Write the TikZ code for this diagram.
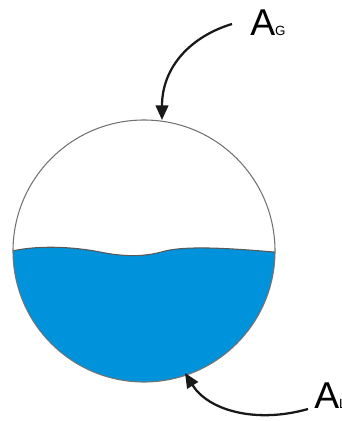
\documentclass[tikz,border=0pt]{standalone}
\usepackage{fontspec}
\setmainfont{Liberation Sans}
\usetikzlibrary{arrows.meta}
\definecolor{waterblue}{RGB}{0,146,219}
\tikzset{
  pointer/.style={line width=1.7pt,black!90,-{Triangle[length=11pt,width=9.5pt]}},
  arealabel/.style={anchor=base west,inner sep=0pt,font=\fontsize{28}{28}\selectfont}
}
\newcommand{\subsm}[1]{{\fontsize{10}{10}\selectfont #1}}
\begin{document}
\begin{tikzpicture}[x=0.75pt,y=-0.75pt]
  \useasboundingbox (0,0) rectangle (342,421);
  \clip (0,0) rectangle (342,421);
  % tank
  \coordinate (ctr) at (144,251);
  \begin{scope}
    \clip (ctr) circle[radius=131];
    \fill[waterblue] (5,253) .. controls (30,245) and (70,246) .. (100,252)
      .. controls (125,257) and (145,257) .. (165,251)
      .. controls (190,245) and (240,249) .. (285,253) -- (285,400) -- (5,400) -- cycle;
    \draw[black!65,line width=0.8pt] (5,253) .. controls (30,245) and (70,246) .. (100,252)
      .. controls (125,257) and (145,257) .. (165,251)
      .. controls (190,245) and (240,249) .. (285,253);
  \end{scope}
  \draw[black!55,line width=0.8pt] (ctr) circle[radius=131];
  % labels
  \node[arealabel] (gas) at (250,36) {A\subsm{G}};
  \node[arealabel] (liq) at (314,408) {A\subsm{L}};
  \coordinate (gasend) at (162,120);
  \coordinate (liqend) at (185,373);
  % pointers
  \draw[pointer] (232,24) .. controls (192,36) and (162,66) .. (gasend);
  \draw[pointer] (308,409) .. controls (255,424) and (208,410) .. (liqend);
\end{tikzpicture}
\end{document}
